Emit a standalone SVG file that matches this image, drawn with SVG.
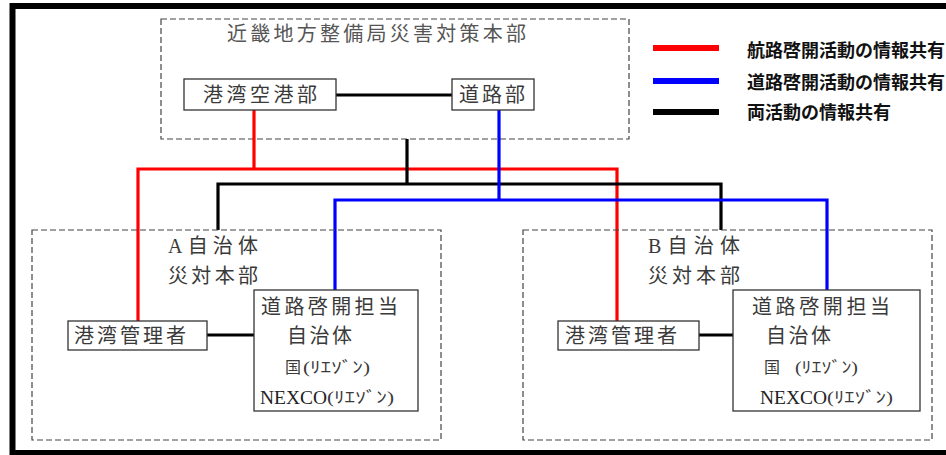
<svg xmlns="http://www.w3.org/2000/svg" width="946" height="455" viewBox="0 0 946 455">
<style>
.frame{fill:none;stroke:#000;stroke-width:6}
.dash{fill:none;stroke:#444;stroke-width:1.2;stroke-dasharray:6,3}
.box{fill:#fff;stroke:#333;stroke-width:1.3}
.t{font-family:"Liberation Serif","Noto Sans CJK JP",serif;fill:#3a3a3a;font-size:20px}
.tm{font-family:"Liberation Serif","Noto Sans CJK JP",serif;fill:#3a3a3a;font-size:16px}
.ts{font-family:"Liberation Serif","Noto Sans CJK JP",serif;fill:#3a3a3a;font-size:16px}
.tn{font-family:"Liberation Serif",serif;fill:#222;font-size:19px}
.title{font-family:"Liberation Serif","Noto Sans CJK JP",serif;fill:#555;font-size:20px}
.lg{font-family:"Noto Sans CJK JP",sans-serif;font-weight:bold;fill:#111;font-size:18px}
.red{fill:none;stroke:#f00;stroke-width:3.2}
.blue{fill:none;stroke:#00f;stroke-width:3.2}
.blk{fill:none;stroke:#000;stroke-width:3.2}
</style>
<rect x="0" y="0" width="946" height="455" fill="#fff"/>
<rect class="frame" x="12.5" y="6" width="960" height="447"/>

<g id="hq">
<rect class="dash" x="161" y="19" width="468" height="120"/>
<text class="title" x="227" y="41" textLength="299" lengthAdjust="spacing">近畿地方整備局災害対策本部</text>
</g>

<g id="connectors">
<path class="blk" d="M336 95H452"/>
<path class="red" d="M254 110V169M138 321V169H617V321"/>
<path class="blk" d="M407 139V184M218 230V184H721V230"/>
<path class="blue" d="M499 110V200M335 290V200H827V290"/>
<path class="blk" d="M207 335H254"/>
<path class="blk" d="M699 335H733"/>
</g>

<g id="kowan-kuko">
<rect class="box" x="184" y="79" width="152" height="31"/>
<text class="t" x="203" y="102" textLength="114" lengthAdjust="spacing">港湾空港部</text>
</g>
<g id="doro">
<rect class="box" x="452" y="79" width="82" height="31"/>
<text class="t" x="459" y="102" textLength="66" lengthAdjust="spacing">道路部</text>
</g>

<g id="legend">
<line x1="653" y1="48" x2="719" y2="48" stroke="#f00" stroke-width="6"/>
<line x1="653" y1="81" x2="719" y2="81" stroke="#00f" stroke-width="6"/>
<line x1="653" y1="112" x2="719" y2="112" stroke="#000" stroke-width="6"/>
<text class="lg" x="747" y="57" textLength="198" lengthAdjust="spacing">航路啓開活動の情報共有</text>
<text class="lg" x="747" y="89" textLength="198" lengthAdjust="spacing">道路啓開活動の情報共有</text>
<text class="lg" x="747" y="119" textLength="144" lengthAdjust="spacing">両活動の情報共有</text>
</g>

<g id="a-area">
<rect class="dash" x="32" y="230" width="409" height="210"/>
<text class="t" x="168" y="253" textLength="90" lengthAdjust="spacing">A自治体</text>
<text class="t" x="168" y="283" textLength="90" lengthAdjust="spacing">災対本部</text>
</g>
<g id="a-kowan">
<rect class="box" x="68" y="321" width="139" height="29"/>
<text class="t" x="74" y="343" textLength="112" lengthAdjust="spacing">港湾管理者</text>
</g>
<g id="a-doro">
<rect class="box" x="254" y="290" width="164" height="121"/>
<text class="t" x="261" y="314" textLength="137" lengthAdjust="spacing">道路啓開担当</text>
<text class="t" x="287" y="343" textLength="65" lengthAdjust="spacing">自治体</text>
<text class="tm" x="285" y="373">国</text>
<text class="ts" x="303" y="373" textLength="67" lengthAdjust="spacingAndGlyphs">(ﾘｴｿﾞﾝ)</text>
<text class="tn" x="260" y="404" textLength="67" lengthAdjust="spacingAndGlyphs">NEXCO</text>
<text class="ts" x="327" y="403" textLength="67" lengthAdjust="spacingAndGlyphs">(ﾘｴｿﾞﾝ)</text>
</g>

<g id="b-area">
<rect class="dash" x="523" y="230" width="409" height="210"/>
<text class="t" x="648" y="253" textLength="92" lengthAdjust="spacing">B自治体</text>
<text class="t" x="648" y="283" textLength="92" lengthAdjust="spacing">災対本部</text>
</g>
<g id="b-kowan">
<rect class="box" x="558" y="321" width="141" height="29"/>
<text class="t" x="565" y="343" textLength="112" lengthAdjust="spacing">港湾管理者</text>
</g>
<g id="b-doro">
<rect class="box" x="733" y="290" width="187" height="121"/>
<text class="t" x="752" y="314" textLength="138" lengthAdjust="spacing">道路啓開担当</text>
<text class="t" x="766" y="343" textLength="65" lengthAdjust="spacing">自治体</text>
<text class="tm" x="764" y="373">国</text>
<text class="ts" x="795" y="373" textLength="63" lengthAdjust="spacingAndGlyphs">(ﾘｴｿﾞﾝ)</text>
<text class="tn" x="760" y="404" textLength="67" lengthAdjust="spacingAndGlyphs">NEXCO</text>
<text class="ts" x="827" y="403" textLength="66" lengthAdjust="spacingAndGlyphs">(ﾘｴｿﾞﾝ)</text>
</g>
</svg>
